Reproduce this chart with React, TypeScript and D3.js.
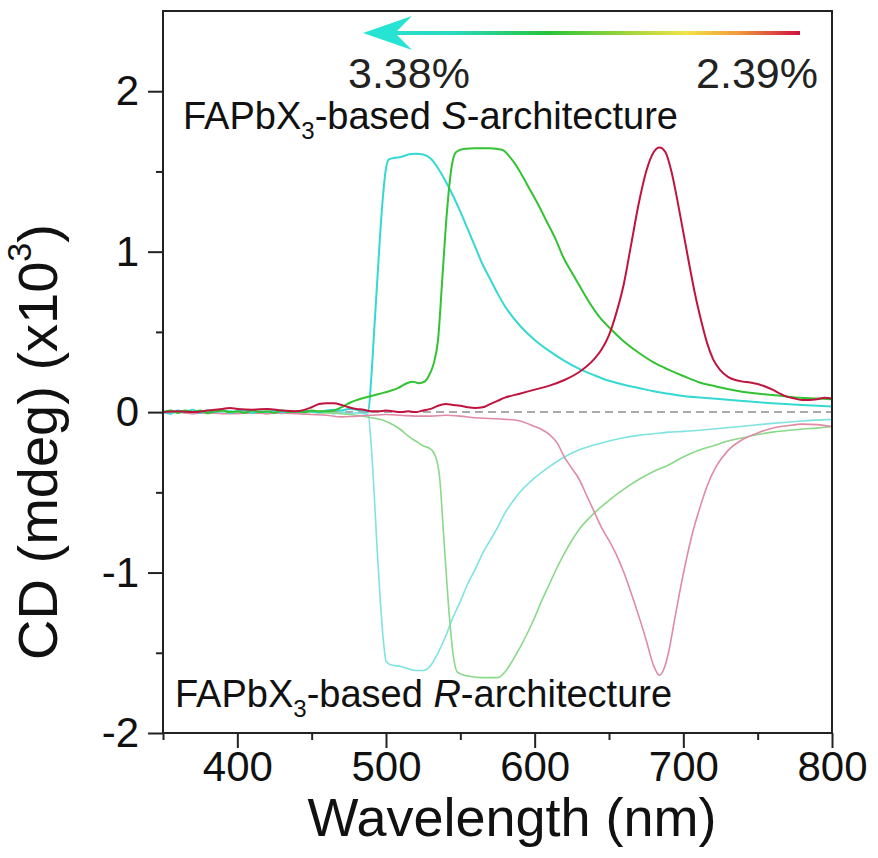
import React, { useEffect, useRef } from "react";
import * as d3 from "d3";

// CD spectra (x10^3 mdeg) vs wavelength (nm), as [nm, value] pairs
const cyanS: [number, number][] = [
  [350, 0.005], [355, -0.01], [360, 0.01], [365, 0.0], [370, 0.015], [375, -0.005], [380, 0.01], [385, 0.0],
  [390, 0.012], [395, -0.005], [400, 0.005], [405, 0.01], [410, -0.005], [415, 0.005], [420, 0.0], [425, 0.01],
  [430, 0.0], [435, 0.005], [440, 0.0], [445, 0.01], [450, 0.005], [455, 0.0], [460, 0.01], [465, 0.015],
  [470, 0.01], [475, 0.02], [480, 0.015], [485, 0.01], [488, 0.0], [490, 0.2], [492, 0.5], [494, 0.8],
  [496, 1.1], [498, 1.35], [500, 1.52], [502, 1.575], [506, 1.585], [510, 1.59], [515, 1.605], [520, 1.61],
  [525, 1.605], [530, 1.58], [535, 1.52], [540, 1.44], [545, 1.35], [550, 1.25], [555, 1.14], [560, 1.03],
  [565, 0.92], [570, 0.83], [575, 0.74], [580, 0.66], [590, 0.54], [600, 0.45], [610, 0.38], [620, 0.32],
  [630, 0.27], [640, 0.23], [650, 0.195], [660, 0.17], [670, 0.15], [680, 0.13], [690, 0.115], [700, 0.1],
  [720, 0.085], [740, 0.07], [760, 0.055], [780, 0.045], [800, 0.035],
];

const greenS: [number, number][] = [
  [350, 0.0], [355, 0.01], [360, -0.005], [365, 0.01], [370, 0.0], [375, 0.01], [380, -0.005], [385, 0.005],
  [390, 0.01], [395, 0.0], [400, 0.005], [405, -0.005], [410, 0.01], [415, 0.0], [420, 0.005], [425, -0.005],
  [430, 0.01], [435, 0.0], [440, 0.005], [445, 0.0], [450, 0.01], [455, 0.005], [460, 0.005], [465, 0.01],
  [470, 0.03], [476, 0.06], [482, 0.08], [490, 0.1], [496, 0.115], [502, 0.13], [508, 0.15], [514, 0.18],
  [518, 0.19], [522, 0.18], [526, 0.19], [529, 0.23], [532, 0.3], [535, 0.45], [538, 0.85], [541, 1.25],
  [544, 1.52], [547, 1.62], [552, 1.64], [560, 1.645], [570, 1.645], [578, 1.635], [585, 1.57], [590, 1.5],
  [596, 1.4], [602, 1.3], [608, 1.19], [614, 1.08], [619, 0.97], [625, 0.87], [630, 0.79], [637, 0.68],
  [643, 0.6], [652, 0.51], [660, 0.44], [670, 0.37], [680, 0.31], [690, 0.265], [700, 0.225], [711, 0.185],
  [722, 0.16], [735, 0.135], [745, 0.12], [756, 0.11], [767, 0.1], [778, 0.09], [790, 0.085], [800, 0.08],
];

const redS: [number, number][] = [
  [350, 0.0], [360, 0.005], [370, 0.0], [380, 0.01], [390, 0.02], [395, 0.025], [400, 0.02], [410, 0.015],
  [420, 0.02], [430, 0.01], [440, 0.005], [450, 0.03], [455, 0.05], [460, 0.055], [465, 0.055], [470, 0.045],
  [475, 0.03], [480, 0.02], [485, 0.015], [490, 0.005], [495, 0.005], [500, 0.01], [505, 0.005], [510, 0.0],
  [515, 0.005], [520, 0.0], [525, 0.01], [530, 0.02], [535, 0.04], [540, 0.05], [545, 0.045], [550, 0.04],
  [555, 0.03], [560, 0.025], [565, 0.03], [570, 0.05], [575, 0.07], [580, 0.09], [590, 0.115], [600, 0.14],
  [610, 0.165], [620, 0.2], [630, 0.25], [640, 0.33], [645, 0.39], [650, 0.48], [655, 0.62], [660, 0.8],
  [665, 1.05], [670, 1.3], [675, 1.5], [680, 1.62], [684, 1.65], [688, 1.62], [692, 1.5], [696, 1.32],
  [700, 1.12], [704, 0.92], [708, 0.73], [712, 0.57], [716, 0.43], [720, 0.33], [725, 0.26], [730, 0.22],
  [735, 0.2], [740, 0.19], [745, 0.185], [750, 0.175], [755, 0.16], [760, 0.14], [765, 0.115], [770, 0.095],
  [775, 0.085], [780, 0.075], [785, 0.075], [790, 0.08], [795, 0.09], [800, 0.085],
];

const cyanR: [number, number][] = [
  [350, -0.005], [355, 0.01], [360, -0.005], [365, 0.005], [370, -0.01], [375, 0.0], [380, 0.005], [385, -0.005],
  [390, 0.0], [395, 0.01], [400, -0.005], [405, 0.0], [410, 0.005], [415, -0.005], [420, 0.0], [425, 0.005],
  [430, -0.01], [435, 0.0], [440, 0.005], [445, -0.005], [450, 0.0], [455, -0.005], [460, 0.0], [465, -0.01],
  [470, 0.0], [475, -0.01], [480, -0.005], [485, -0.01], [488, -0.015], [490, -0.2], [492, -0.5], [494, -0.85],
  [496, -1.15], [498, -1.4], [500, -1.55], [503, -1.575], [506, -1.58], [510, -1.585], [515, -1.6], [520, -1.61],
  [525, -1.61], [530, -1.58], [535, -1.5], [540, -1.4], [545, -1.28], [550, -1.18], [555, -1.07], [560, -0.98],
  [565, -0.88], [570, -0.8], [575, -0.72], [580, -0.63], [585, -0.56], [590, -0.5], [600, -0.41], [610, -0.34],
  [620, -0.28], [630, -0.235], [640, -0.205], [650, -0.18], [660, -0.16], [670, -0.145], [680, -0.135],
  [690, -0.125], [700, -0.12], [720, -0.105], [740, -0.088], [760, -0.07], [780, -0.055], [800, -0.045],
];

const greenR: [number, number][] = [
  [350, 0.005], [355, -0.005], [360, 0.01], [365, -0.005], [370, 0.0], [375, 0.005], [380, -0.01], [385, 0.0],
  [390, 0.005], [395, -0.005], [400, 0.0], [405, 0.005], [410, -0.005], [415, 0.0], [420, -0.01], [425, 0.0],
  [430, 0.005], [435, -0.005], [440, 0.0], [445, -0.005], [450, 0.0], [455, -0.005], [460, -0.005], [465, -0.005],
  [470, -0.01], [480, -0.02], [490, -0.035], [498, -0.05], [505, -0.08], [510, -0.11], [515, -0.15], [520, -0.18],
  [525, -0.21], [530, -0.23], [533, -0.27], [536, -0.4], [539, -0.8], [542, -1.2], [545, -1.5], [548, -1.62],
  [555, -1.645], [565, -1.655], [575, -1.655], [580, -1.62], [585, -1.55], [590, -1.47], [595, -1.38], [600, -1.28],
  [605, -1.17], [610, -1.07], [615, -0.97], [620, -0.88], [625, -0.8], [630, -0.73], [640, -0.63], [650, -0.55],
  [660, -0.48], [670, -0.42], [680, -0.37], [690, -0.33], [700, -0.28], [710, -0.24], [720, -0.21], [730, -0.18],
  [740, -0.16], [750, -0.14], [760, -0.125], [770, -0.115], [780, -0.105], [790, -0.1], [800, -0.09],
];

const redR: [number, number][] = [
  [350, -0.005], [360, 0.0], [370, -0.01], [380, -0.005], [390, -0.01], [400, -0.01], [410, -0.005], [420, -0.01],
  [430, -0.005], [440, -0.01], [450, -0.015], [460, -0.02], [470, -0.03], [480, -0.025], [490, -0.02], [500, -0.015],
  [510, -0.02], [520, -0.025], [530, -0.025], [540, -0.02], [550, -0.025], [560, -0.035], [570, -0.04], [580, -0.045],
  [590, -0.055], [600, -0.09], [605, -0.11], [610, -0.14], [615, -0.19], [620, -0.28], [625, -0.35], [630, -0.42],
  [635, -0.52], [640, -0.62], [645, -0.72], [650, -0.8], [655, -0.89], [660, -1.0], [665, -1.13], [670, -1.27],
  [675, -1.42], [680, -1.58], [684, -1.64], [687, -1.6], [690, -1.5], [694, -1.3], [698, -1.1], [702, -0.92],
  [706, -0.76], [711, -0.6], [716, -0.46], [722, -0.34], [730, -0.24], [740, -0.17], [750, -0.13], [760, -0.1],
  [770, -0.085], [780, -0.075], [790, -0.078], [800, -0.09],
];

const xMajorTicks = [400, 500, 600, 700, 800];
const xMinorTicks = [350, 450, 550, 650, 750];
const yMajorTicks = [-2, -1, 0, 1, 2];
const yMinorTicks = [-1.5, -0.5, 0.5, 1.5];

const FONT = "'Liberation Sans', Arial, Helvetica, sans-serif";

const margin = { left: 163, right: 832, top: 11, bottom: 733 };

export default function App() {
  const xAxisRef = useRef<SVGGElement>(null);
  const xMinorRef = useRef<SVGGElement>(null);
  const yAxisRef = useRef<SVGGElement>(null);
  const yMinorRef = useRef<SVGGElement>(null);

  const x = d3.scaleLinear().domain([350, 800]).range([margin.left, margin.right]);
  const y = d3.scaleLinear().domain([-2, 2.5]).range([margin.bottom, margin.top]);

  const line = d3
    .line<[number, number]>()
    .x((d) => x(d[0]))
    .y((d) => y(d[1]))
    .curve(d3.curveMonotoneX);

  useEffect(() => {
    const styleAxis = (g: d3.Selection<SVGGElement, unknown, null, undefined>) => {
      g.select(".domain").remove();
      g.selectAll(".tick line").attr("stroke", "#222").attr("stroke-width", 2);
      g.selectAll(".tick text")
        .attr("fill", "#111")
        .style("font-family", FONT)
        .style("font-size", "42px");
    };
    const fmt = (d: d3.NumberValue) => `${d}`;
    const xa = d3.select(xAxisRef.current!);
    xa.call(d3.axisBottom(x).tickValues(xMajorTicks).tickSize(15).tickSizeOuter(0).tickPadding(3).tickFormat(fmt));
    styleAxis(xa);
    const xm = d3.select(xMinorRef.current!);
    xm.call(d3.axisBottom(x).tickValues(xMinorTicks).tickSize(7).tickSizeOuter(0).tickFormat(() => ""));
    styleAxis(xm);
    const ya = d3.select(yAxisRef.current!);
    ya.call(d3.axisLeft(y).tickValues(yMajorTicks).tickSize(15).tickSizeOuter(0).tickPadding(9).tickFormat(fmt));
    styleAxis(ya);
    const ym = d3.select(yMinorRef.current!);
    ym.call(d3.axisLeft(y).tickValues(yMinorTicks).tickSize(7).tickSizeOuter(0).tickFormat(() => ""));
    styleAxis(ym);
  }, []);

  const arrowY = 33;
  const arrowX0 = 363;
  const arrowX1 = 800;

  return (
    <svg
      width={878}
      height={858}
      style={{ position: "absolute", left: 0, top: 0, display: "block", background: "#fff" }}
      fontFamily={FONT}
    >
      <defs>
        <linearGradient id="ratioGrad" gradientUnits="userSpaceOnUse" x1={arrowX0} x2={arrowX1} y1={0} y2={0}>
          <stop offset="0%" stopColor="#27e3d3" />
          <stop offset="20%" stopColor="#2bd9c4" />
          <stop offset="42%" stopColor="#25c43a" />
          <stop offset="58%" stopColor="#8fd23a" />
          <stop offset="74%" stopColor="#f3e248" />
          <stop offset="86%" stopColor="#ef9a3a" />
          <stop offset="100%" stopColor="#cf1040" />
        </linearGradient>
        <clipPath id="plotClip">
          <rect x={margin.left} y={margin.top} width={margin.right - margin.left} height={margin.bottom - margin.top} />
        </clipPath>
      </defs>

      {/* zero reference */}
      <line
        x1={x(350)}
        x2={x(800)}
        y1={y(0)}
        y2={y(0)}
        stroke="#aaaaaa"
        strokeWidth={2}
        strokeDasharray="8,5"
      />

      <g clipPath="url(#plotClip)" fill="none">
        {/* R-architecture (negative) */}
        <path d={line(cyanR) || ""} stroke="#7fe3e0" strokeWidth={1.6} />
        <path d={line(greenR) || ""} stroke="#8ad98a" strokeWidth={1.6} />
        <path d={line(redR) || ""} stroke="#e08aa3" strokeWidth={1.6} />
        {/* S-architecture (positive) */}
        <path d={line(cyanS) || ""} stroke="#35d8d3" strokeWidth={2} />
        <path d={line(greenS) || ""} stroke="#33c233" strokeWidth={2} />
        <path d={line(redS) || ""} stroke="#c0143f" strokeWidth={2} />
      </g>

      {/* frame */}
      <rect
        x={margin.left}
        y={margin.top}
        width={margin.right - margin.left}
        height={margin.bottom - margin.top}
        fill="none"
        stroke="#222"
        strokeWidth={2}
      />
      <g ref={xMinorRef} transform={`translate(0,${margin.bottom})`} />
      <g ref={xAxisRef} transform={`translate(0,${margin.bottom})`} />
      <g ref={yMinorRef} transform={`translate(${margin.left},0)`} />
      <g ref={yAxisRef} transform={`translate(${margin.left},0)`} />

      {/* composition arrow */}
      <line x1={arrowX0 + 30} x2={arrowX1} y1={arrowY} y2={arrowY} stroke="url(#ratioGrad)" strokeWidth={4} />
      <path
        d={`M${arrowX0},${arrowY} L${arrowX0 + 49},${arrowY - 17} L${arrowX0 + 32},${arrowY} L${arrowX0 + 49},${arrowY + 17} Z`}
        fill="#27e3d3"
      />
      <text x={348} y={88} fontSize={43} fill="#222">3.38%</text>
      <text x={818} y={88} fontSize={43} fill="#222" textAnchor="end">2.39%</text>

      <text x={183} y={129} fontSize={38} fill="#111">
        FAPbX<tspan fontSize={24} dy={10}>3</tspan>
        <tspan dy={-10}>-based </tspan>
        <tspan fontStyle="italic">S</tspan>-architecture
      </text>
      <text x={175} y={707} fontSize={38} fill="#111">
        FAPbX<tspan fontSize={24} dy={10}>3</tspan>
        <tspan dy={-10}>-based </tspan>
        <tspan fontStyle="italic">R</tspan>-architecture
      </text>

      {/* axis titles */}
      <text x={512} y={836} fontSize={54} textAnchor="middle" fill="#111">
        Wavelength (nm)
      </text>
      <text transform="translate(57,442) rotate(-90)" fontSize={56} textAnchor="middle" fill="#111">
        CD (mdeg) (x10<tspan fontSize={34} dy={-26}>3</tspan>
        <tspan dy={26}>)</tspan>
      </text>
    </svg>
  );
}
